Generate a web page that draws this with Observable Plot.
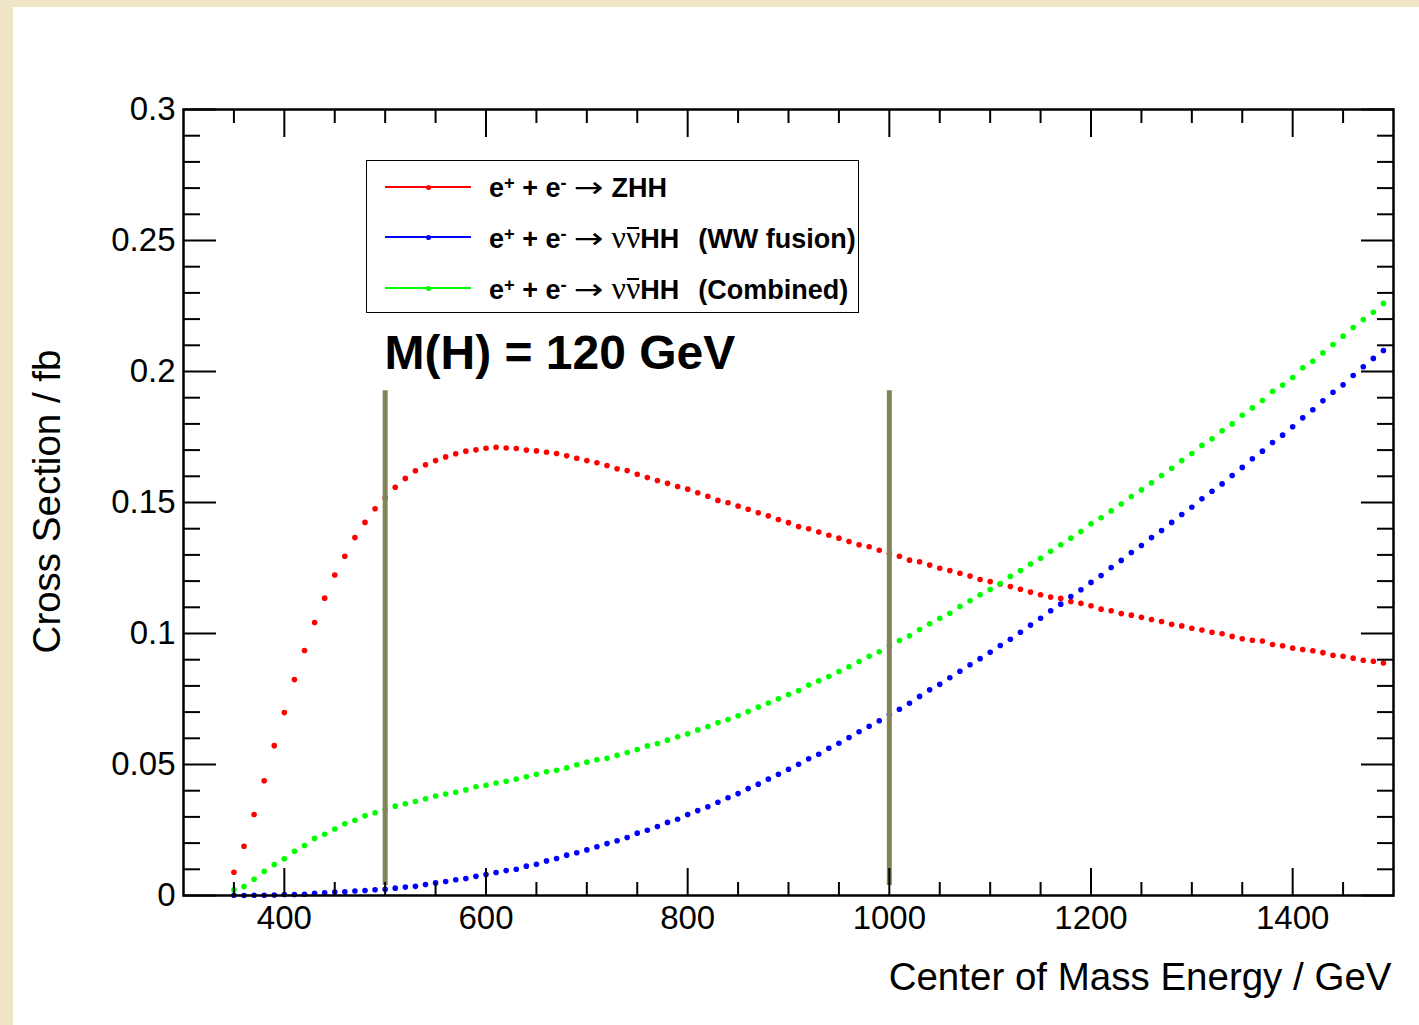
<!DOCTYPE html>
<html>
<head>
<meta charset="utf-8">
<script src="https://cdn.jsdelivr.net/npm/d3@7"></script>
<script src="https://cdn.jsdelivr.net/npm/@observablehq/plot@0.6"></script>
<style>
html, body { margin: 0; padding: 0; }
body { width: 1419px; height: 1025px; overflow: hidden; background: #eee4c6; font-family: 'Liberation Sans', Arial, Helvetica, sans-serif; }
#page { position: relative; width: 1419px; height: 1025px; }
#panel { position: absolute; left: 13px; top: 7px; right: 0; bottom: 0; background: #ffffff; }
#chart { position: absolute; left: 0; top: 0; }
#legend { position: absolute; left: 366px; top: 160px; width: 493px; height: 153px; border: 1.5px solid #000; box-sizing: border-box; background: #fff; }
.lrow { position: absolute; left: 0; width: 100%; height: 27px; }
.lline { position: absolute; left: 18px; width: 86px; top: 12.5px; height: 1.6px; }
.ldot { position: absolute; left: 59px; top: 11px; width: 5px; height: 5px; border-radius: 50%; }
.ltext { position: absolute; left: 122px; top: 0; font-size: 27px; line-height: 27px; font-weight: bold; white-space: pre; color: #000; }
.ltext sup { font-size: 0.68em; vertical-align: 0.42em; line-height: 0; }
.arr { font-weight: normal; font-family: 'DejaVu Sans', sans-serif; font-size: 1.05em; display: inline-block; transform: scaleX(1.25); margin: 0 3px; }
.nu { font-family: 'Liberation Serif', 'DejaVu Serif', serif; font-weight: normal; font-size: 1.18em; }
.nub { position: relative; display: inline-block; line-height: 27px; }
.nub::before { content: ""; position: absolute; left: 1px; right: 1px; top: 3px; height: 2.6px; background: #000; }
.tag { margin-left: 4px; }
</style>
</head>
<body>
<div id="page">
  <div id="panel"></div>
  <div id="chart"></div>
  <div id="legend"></div>
</div>
<script>
// ---- data ----
const energy = [350,360,370,380,390,400,410,420,430,440,450,460,470,480,490,500,510,520,530,540,550,560,570,580,590,600,610,620,630,640,650,660,670,680,690,700,710,720,730,740,750,760,770,780,790,800,810,820,830,840,850,860,870,880,890,900,910,920,930,940,950,960,970,980,990,1000,1010,1020,1030,1040,1050,1060,1070,1080,1090,1100,1110,1120,1130,1140,1150,1160,1170,1180,1190,1200,1210,1220,1230,1240,1250,1260,1270,1280,1290,1300,1310,1320,1330,1340,1350,1360,1370,1380,1390,1400,1410,1420,1430,1440,1450,1460,1470,1480,1490];

const zhh = [0.0089,0.0188,0.0309,0.0438,0.0572,0.0698,0.0824,0.0935,0.1042,0.1135,0.1223,0.1295,0.1366,0.1424,0.1476,0.1518,0.1558,0.1592,0.1621,0.1644,0.1660,0.1674,0.1686,0.1696,0.1701,0.1707,0.1711,0.1708,0.1706,0.1700,0.1697,0.1692,0.1687,0.1678,0.1669,0.1660,0.1652,0.1641,0.1629,0.1622,0.1608,0.1595,0.1584,0.1573,0.1561,0.1551,0.1537,0.1524,0.1508,0.1499,0.1486,0.1474,0.1461,0.1449,0.1435,0.1423,0.1408,0.1400,0.1387,0.1375,0.1364,0.1351,0.1339,0.1331,0.1318,0.1304,0.1295,0.1280,0.1274,0.1261,0.1249,0.1240,0.1230,0.1219,0.1206,0.1198,0.1189,0.1179,0.1169,0.1158,0.1148,0.1139,0.1134,0.1122,0.1115,0.1106,0.1093,0.1087,0.1076,0.1070,0.1062,0.1053,0.1046,0.1035,0.1029,0.1020,0.1013,0.1005,0.0999,0.0989,0.0980,0.0974,0.0971,0.0958,0.0953,0.0944,0.0939,0.0934,0.0927,0.0917,0.0913,0.0906,0.0898,0.0894,0.0887];

const wwFusion = [0.0001,0.0000,0.0001,0.0001,0.0002,0.0004,0.0004,0.0005,0.0008,0.0010,0.0013,0.0014,0.0017,0.0019,0.0022,0.0024,0.0028,0.0032,0.0035,0.0042,0.0048,0.0053,0.0060,0.0065,0.0073,0.0080,0.0088,0.0095,0.0100,0.0112,0.0119,0.0132,0.0141,0.0154,0.0163,0.0174,0.0186,0.0198,0.0209,0.0221,0.0238,0.0249,0.0263,0.0279,0.0291,0.0309,0.0324,0.0339,0.0356,0.0373,0.0389,0.0408,0.0425,0.0444,0.0463,0.0482,0.0501,0.0522,0.0539,0.0562,0.0581,0.0603,0.0625,0.0646,0.0667,0.0691,0.0711,0.0734,0.0760,0.0785,0.0806,0.0831,0.0856,0.0881,0.0904,0.0928,0.0954,0.0978,0.1005,0.1032,0.1058,0.1087,0.1112,0.1141,0.1167,0.1195,0.1221,0.1252,0.1279,0.1309,0.1336,0.1366,0.1393,0.1424,0.1454,0.1482,0.1514,0.1543,0.1571,0.1603,0.1634,0.1667,0.1696,0.1729,0.1757,0.1789,0.1823,0.1854,0.1888,0.1921,0.1949,0.1985,0.2018,0.2050,0.2080];

const combined = [0.0022,0.0034,0.0062,0.0092,0.0118,0.0140,0.0169,0.0191,0.0218,0.0234,0.0254,0.0274,0.0287,0.0304,0.0316,0.0328,0.0341,0.0350,0.0359,0.0369,0.0380,0.0387,0.0394,0.0403,0.0415,0.0421,0.0429,0.0436,0.0444,0.0453,0.0463,0.0472,0.0478,0.0487,0.0499,0.0509,0.0518,0.0524,0.0535,0.0546,0.0557,0.0571,0.0580,0.0593,0.0606,0.0617,0.0632,0.0645,0.0660,0.0672,0.0686,0.0702,0.0719,0.0735,0.0751,0.0767,0.0782,0.0803,0.0819,0.0836,0.0855,0.0873,0.0893,0.0913,0.0930,0.0954,0.0973,0.0991,0.1015,0.1037,0.1058,0.1077,0.1103,0.1125,0.1148,0.1168,0.1191,0.1218,0.1240,0.1265,0.1287,0.1314,0.1339,0.1364,0.1389,0.1419,0.1442,0.1468,0.1494,0.1523,0.1548,0.1575,0.1603,0.1631,0.1660,0.1687,0.1718,0.1743,0.1774,0.1800,0.1833,0.1861,0.1889,0.1924,0.1948,0.1977,0.2014,0.2039,0.2071,0.2103,0.2135,0.2168,0.2198,0.2226,0.2260];

const seriesNames = ["ZHH", "WW fusion", "Combined"];
const seriesColors = ["#ff0000", "#0000ff", "#00ff00"];

const xMajorTicks = [400, 600, 800, 1000, 1200, 1400];
const xMinorTicks = [350, 450, 500, 550, 650, 700, 750, 850, 900, 950, 1050, 1100, 1150, 1250, 1300, 1350, 1450];
const yMajorTicks = [0, 0.05, 0.1, 0.15, 0.2, 0.25, 0.3];
const yMinorTicks = [0.01,0.02,0.03,0.04,0.06,0.07,0.08,0.09,0.11,0.12,0.13,0.14,0.16,0.17,0.18,0.19,0.21,0.22,0.23,0.24,0.26,0.27,0.28,0.29];

const markerEnergies = [500, 1000];
const markerLow = 0.0038;
const markerHigh = 0.1927;

const xTitle = "Center of Mass Energy / GeV";
const yTitle = "Cross Section / fb";
const note = "M(H) = 120 GeV";

// ---- build rows ----
const seriesValues = [zhh, wwFusion, combined];
const rows = [];
seriesValues.forEach((vals, s) => {
  vals.forEach((v, i) => rows.push({energy: energy[i], value: v, color: seriesColors[s], series: seriesNames[s]}));
});

const tickStyle = {strokeWidth: 2, label: null, tickFormat: () => ""};

const chart = Plot.plot({
  width: 1419,
  height: 1025,
  marginLeft: 183,
  marginRight: 26,
  marginTop: 109,
  marginBottom: 130,
  x: {domain: [300, 1500]},
  y: {domain: [0, 0.3]},
  color: {type: "identity"},
  style: {background: "transparent", fontFamily: "'Liberation Sans', Arial, Helvetica, sans-serif", color: "#000", overflow: "visible"},
  marks: [
    Plot.dot(rows, {x: "energy", y: "value", fill: "color", r: 2.8, stroke: null}),
    Plot.ruleX(markerEnergies, {x: d => d, y1: markerLow, y2: markerHigh, stroke: "#84845a", strokeWidth: 5}),
    // ticks (inward, both sides)
    Plot.axisX(xMajorTicks, {anchor: "bottom", tickSize: -27, ...tickStyle}),
    Plot.axisX(xMinorTicks, {anchor: "bottom", tickSize: -13, ...tickStyle}),
    Plot.axisX(xMajorTicks, {anchor: "top", tickSize: -27, ...tickStyle}),
    Plot.axisX(xMinorTicks, {anchor: "top", tickSize: -13, ...tickStyle}),
    Plot.axisY(yMajorTicks, {anchor: "left", tickSize: -33, ...tickStyle}),
    Plot.axisY(yMinorTicks, {anchor: "left", tickSize: -17, ...tickStyle}),
    Plot.axisY(yMajorTicks, {anchor: "right", tickSize: -33, ...tickStyle}),
    Plot.axisY(yMinorTicks, {anchor: "right", tickSize: -17, ...tickStyle}),
    // tick labels
    Plot.axisX(xMajorTicks, {anchor: "bottom", tickSize: 0, tickPadding: 10, fontSize: 33, label: null, tickFormat: d => String(d)}),
    Plot.axisY(yMajorTicks, {anchor: "left", tickSize: 0, tickPadding: 8, fontSize: 33, label: null, tickFormat: d => String(d)}),
    Plot.frame({stroke: "#000", strokeWidth: 2.5}),
    // titles
    Plot.text([xTitle], {text: d => d, frameAnchor: "bottom-right", textAnchor: "end", dx: -2, dy: 82, fontSize: 38.5, lineAnchor: "middle", fill: "#000"}),
    Plot.text([yTitle], {text: d => d, frameAnchor: "left", textAnchor: "middle", rotate: -90, dx: -136, dy: -1, fontSize: 38.5, lineAnchor: "middle", fill: "#000"}),
    Plot.text([note], {text: d => d, frameAnchor: "top-left", textAnchor: "start", dx: 201, dy: 244, fontSize: 48, fontWeight: "bold", lineAnchor: "middle", fill: "#000"})
  ]
});
document.getElementById("chart").appendChild(chart);

// ---- legend ----
const legendTop = [26, 76, 127];
const legend = document.getElementById("legend");
seriesNames.forEach((name, i) => {
  const row = document.createElement("div");
  row.className = "lrow";
  row.style.top = (legendTop[i] - 13.5) + "px";
  const proc = i === 0
    ? "ZHH"
    : '<span class="nu">ν</span><span class="nub"><span class="nu">ν</span></span>HH  <span class="tag">(' + name + ')</span>';
  row.innerHTML =
    '<div class="lline" style="background:' + seriesColors[i] + '"></div>' +
    '<div class="ldot" style="background:' + seriesColors[i] + '"></div>' +
    '<div class="ltext">e<sup>+</sup> + e<sup>-</sup> <span class="arr">→</span> ' + proc + '</div>';
  legend.appendChild(row);
});
</script>
</body>
</html>
